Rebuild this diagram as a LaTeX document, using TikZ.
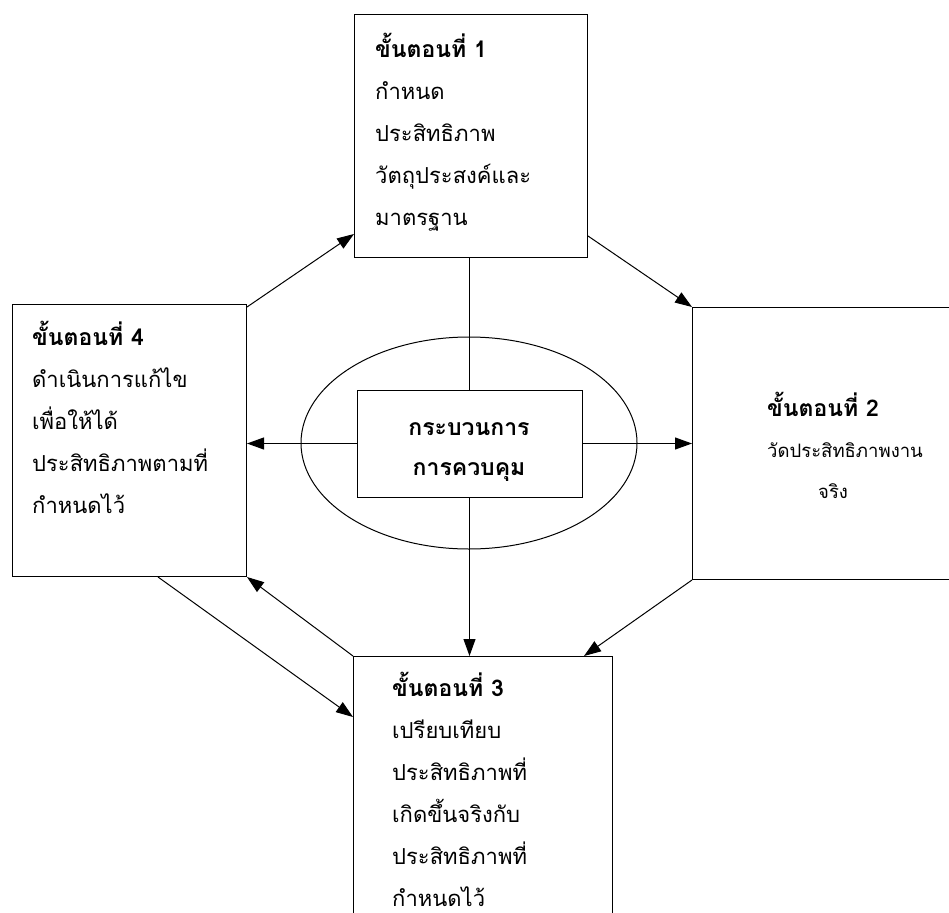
\documentclass[tikz,border=0pt]{standalone}
\usepackage{fontspec}
\setmainfont[Script=Thai]{Loma}
\usetikzlibrary{arrows.meta,shapes.geometric,calc}
\newcommand{\stagetitle}[1]{{\fontsize{23}{42}\selectfont\bfseries #1}}
\begin{document}
\begin{tikzpicture}[x=1pt,y=-1pt,
  stagebox/.style={draw,line width=1pt,inner sep=0pt,anchor=north west},
  stagetext/.style={inner sep=0pt,anchor=base west,align=left,font=\fontsize{22}{42}\selectfont},
  flow/.style={line width=1pt,-{Triangle[length=17pt,width=12pt]}},
  link/.style={line width=1pt}]
\useasboundingbox (0,0) rectangle (949,912);
\clip (0,0) rectangle (949,912);

% centre: ellipse and process box
\node[draw,ellipse,line width=1pt,minimum width=336pt,minimum height=212pt,inner sep=0pt] (ring) at (469,443) {};
\node[draw,line width=1pt,minimum width=225pt,minimum height=107pt,inner sep=0pt,fill=white] (core) at (469.5,443.5) {};
\node[inner sep=0pt,anchor=base,align=center,font=\fontsize{23}{40}\selectfont\bfseries] (coretext) at (469,475) {กระบวนการ\\การควบคุม};

% four stages
\node[stagebox,minimum width=233pt,minimum height=243pt] (s1) at (354,14) {};
\node[stagebox,minimum width=234pt,minimum height=272pt] (s4) at (12,304) {};
\node[stagebox,minimum width=290pt,minimum height=272pt] (s2) at (692,307) {};
\node[stagebox,minimum width=259pt,minimum height=300pt] (s3) at (353,656) {};

% stage texts (anchored at the baseline of their last line)
\node[stagetext] (t1) at (375,225) {\stagetitle{ขั้นตอนที่ 1}\\กำหนด\\ประสิทธิภาพ\\วัตถุประสงค์และ\\มาตรฐาน};
\node[stagetext] (t4) at (32,513) {\stagetitle{ขั้นตอนที่ 4}\\ดำเนินการแก้ไข\\เพื่อให้ได้\\ประสิทธิภาพตามที่\\กำหนดไว้};
\node[stagetext,font=\fontsize{18.5}{41}\selectfont] (t2) at (767,498) {{\fontsize{23}{41}\selectfont\bfseries ขั้นตอนที่ 2}\\วัดประสิทธิภาพงาน\\\hspace*{51pt}จริง};
\node[stagetext] (t3) at (392,906) {\stagetitle{ขั้นตอนที่ 3}\\เปรียบเทียบ\\ประสิทธิภาพที่\\เกิดขึ้นจริงกับ\\ประสิทธิภาพที่\\กำหนดไว้};

% spokes from the process box
\draw[link] (core.north) -- (core.north |- s1.south);
\draw[flow] (core.west) -- (core.west -| s4.east);
\draw[flow] (core.east) -- (core.east -| s2.west);
\draw[flow] (core.south) -- (core.south |- s3.north);

% cycle between the stages
\draw[flow] ([yshift=-3pt]s4.north east) -- ([yshift=24pt]s1.south west);
\draw[flow] ([yshift=22pt]s1.south east) -- (s2.north west);
\draw[flow] (s2.south west) -- ([xshift=-29pt]s3.north east);
\draw[flow] (s3.north west) -- (s4.south east);
\draw[flow] ([xshift=-89pt]s4.south east) -- ([yshift=-61pt]s3.north west);
\end{tikzpicture}
\end{document}
